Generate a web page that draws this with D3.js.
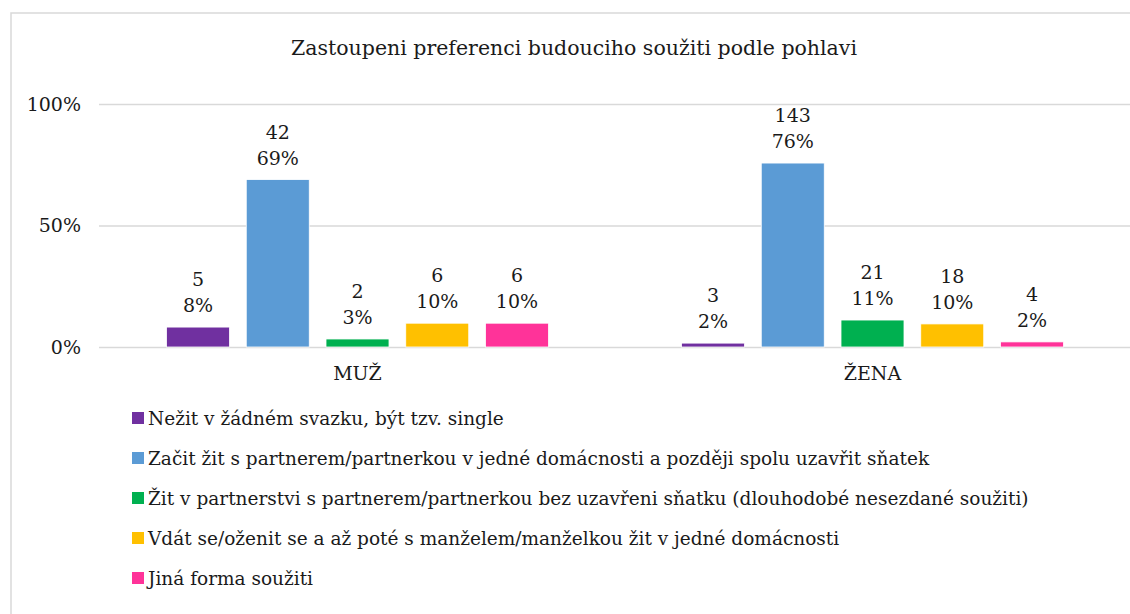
<!DOCTYPE html>
<html>
<head>
<meta charset="utf-8">
<script src="https://cdn.jsdelivr.net/npm/d3@7"></script>
<style>
  body { margin: 0; background: #fff; }
</style>
</head>
<body>
<div id="chart"></div>
<script>
var title = "Zastoupeni preferenci budouciho soužiti podle pohlavi";
var categories = ["MUŽ", "ŽENA"];
var seriesNames = [
  "Nežit v žádném svazku, být tzv. single",
  "Začit žit s partnerem/partnerkou v jedné domácnosti a později spolu uzavřit sňatek",
  "Žit v partnerstvi s partnerem/partnerkou bez uzavřeni sňatku (dlouhodobé nesezdané soužiti)",
  "Vdát se/oženit se a až poté s manželem/manželkou žit v jedné domácnosti",
  "Jiná forma soužiti"
];
var seriesColors = ["#7030A0", "#5B9BD5", "#00B050", "#FFC000", "#FF3399"];
// counts per category
var countsMuz = [5, 42, 2, 6, 6];
var countsZena = [3, 143, 21, 18, 4];
// shares
var pctMuz = [0.082, 0.689, 0.033, 0.098, 0.098];
var pctZena = [0.016, 0.757, 0.111, 0.095, 0.021];
var pctLabelsMuz = ["8%", "69%", "3%", "10%", "10%"];
var pctLabelsZena = ["2%", "76%", "11%", "10%", "2%"];
var yTicks = [0, 0.5, 1];

var serif = "DejaVu Serif";

function init(){
    var w = 1130;
    var h = 614;

    var rows = [
        {cat: categories[0], counts: countsMuz, pct: pctMuz, labels: pctLabelsMuz},
        {cat: categories[1], counts: countsZena, pct: pctZena, labels: pctLabelsZena}
    ];

    var svg = d3.select("#chart")
                .append("svg")
                .attr("width", w)
                .attr("height", h);

    // chart frame
    svg.append("rect")
       .attr("x", 11).attr("y", 13)
       .attr("width", w + 20).attr("height", h + 20)
       .attr("fill", "none")
       .attr("stroke", "#d9d9d9")
       .attr("stroke-width", 1.5);

    svg.append("text")
       .attr("x", 574)
       .attr("y", 55)
       .attr("text-anchor", "middle")
       .attr("fill", "#1a1a1a")
       .attr("font-family", serif)
       .attr("font-size", 20.5)
       .text(title);

    var x0 = d3.scaleBand()
               .domain(categories)
               .range([100, 1130]);
    var x1 = d3.scaleBand()
               .domain(d3.range(seriesNames.length))
               .range([0, x0.bandwidth()])
               .paddingInner(0.21)
               .paddingOuter(0.834);
    var y = d3.scaleLinear()
              .domain([0, 1])
              .range([347, 104]);

    //gridlines
    var yAxis = d3.axisLeft(y)
                  .tickValues(yTicks)
                  .tickFormat(d3.format(".0%"))
                  .tickSize(-(1130 - 99))
                  .tickPadding(18);
    var ga = svg.append("g")
                .attr("transform", "translate(99,0)")
                .call(yAxis);
    ga.attr("font-family", serif).attr("font-size", 19);
    ga.select(".domain").remove();
    ga.selectAll("line").attr("stroke", "#d9d9d9").attr("stroke-width", 1.5);
    ga.selectAll("text").attr("fill", "#1a1a1a");

    //category labels
    svg.selectAll("text.cat")
       .data(categories)
       .enter()
       .append("text")
       .attr("class", "cat")
       .attr("x", function(d){ return x0(d) + x0.bandwidth() / 2; })
       .attr("y", 380)
       .attr("text-anchor", "middle")
       .attr("fill", "#1a1a1a")
       .attr("font-family", serif)
       .attr("font-size", 19)
       .text(function(d){ return d; });

    var groups = svg.selectAll("g.grp")
                    .data(rows)
                    .enter()
                    .append("g")
                    .attr("class", "grp")
                    .attr("transform", function(d){ return "translate(" + x0(d.cat) + ",0)"; });

    var bars = groups.selectAll("g.bar")
                     .data(function(d){
                         return d.pct.map(function(p, i){
                             return {i: i, p: p, n: d.counts[i], lab: d.labels[i]};
                         });
                     })
                     .enter()
                     .append("g")
                     .attr("class", "bar")
                     .attr("font-family", serif)
                     .attr("font-size", 19);

    bars.append("rect")
        .attr("x", function(d){ return x1(d.i); })
        .attr("width", x1.bandwidth())
        .attr("y", function(d){ return y(d.p); })
        .attr("height", function(d){ return y(0) - y(d.p); })
        .attr("fill", function(d){ return seriesColors[d.i]; })
        .attr("stroke", "#fff")
        .attr("stroke-width", 0.8);

    bars.append("text")
        .attr("x", function(d){ return x1(d.i) + x1.bandwidth() / 2; })
        .attr("y", function(d){ return y(d.p) - 41; })
        .attr("text-anchor", "middle")
        .attr("fill", "#1a1a1a")
        .text(function(d){ return d.n; });

    bars.append("text")
        .attr("x", function(d){ return x1(d.i) + x1.bandwidth() / 2; })
        .attr("y", function(d){ return y(d.p) - 15; })
        .attr("text-anchor", "middle")
        .attr("fill", "#1a1a1a")
        .text(function(d){ return d.lab; });

    //legend
    var legend = svg.selectAll("g.leg")
                    .data(seriesNames)
                    .enter()
                    .append("g")
                    .attr("class", "leg")
                    .attr("font-family", serif)
                    .attr("font-size", 18.5)
                    .attr("transform", function(d, i){ return "translate(132," + (412 + i * 40) + ")"; });
    legend.append("rect")
          .attr("width", 12)
          .attr("height", 12)
          .attr("fill", function(d, i){ return seriesColors[i]; });
    legend.append("text")
          .attr("x", 16)
          .attr("y", 13)
          .attr("fill", "#1a1a1a")
          .text(function(d){ return d; });
}
window.onload = init;
</script>
</body>
</html>
